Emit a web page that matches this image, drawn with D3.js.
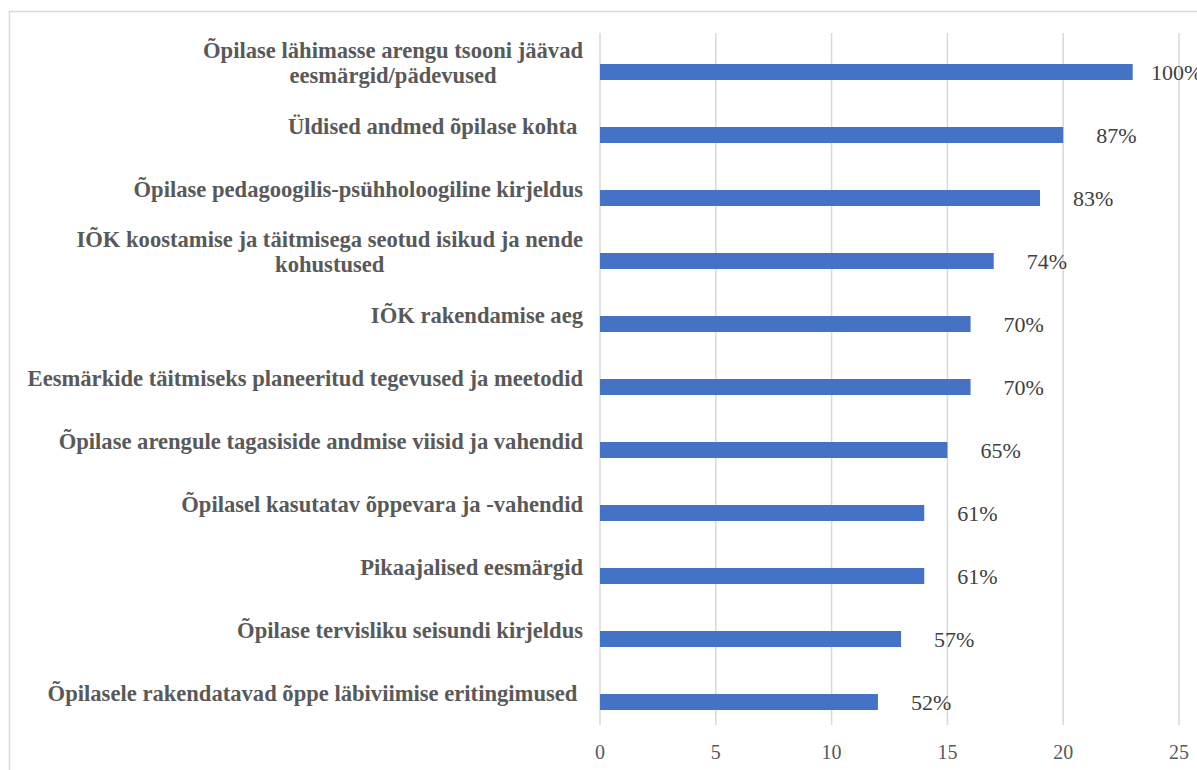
<!DOCTYPE html>
<html>
<head>
<meta charset="utf-8">
<script src="https://cdn.jsdelivr.net/npm/d3@7"></script>
<style>
  body { margin: 0; background: #fff; }
  svg { display: block; }
</style>
</head>
<body>
<script>
// categories top to bottom
const categories = [
  "Õpilase lähimasse arengu tsooni jäävad|eesmärgid/pädevused",
  "Üldised andmed õpilase kohta ",
  "Õpilase pedagoogilis-psühholoogiline kirjeldus",
  "IÕK koostamise ja täitmisega seotud isikud ja nende|kohustused",
  "IÕK rakendamise aeg",
  "Eesmärkide täitmiseks planeeritud tegevused ja meetodid",
  "Õpilase arengule tagasiside andmise viisid ja vahendid",
  "Õpilasel kasutatav õppevara ja -vahendid",
  "Pikaajalised eesmärgid",
  "Õpilase tervisliku seisundi kirjeldus",
  "Õpilasele rakendatavad õppe läbiviimise eritingimused "
];
const values = [23, 20, 19, 17, 16, 16, 15, 14, 14, 13, 12];
const percents = ["100%", "87%", "83%", "74%", "70%", "70%", "65%", "61%", "61%", "57%", "52%"];
const xTicks = [0, 5, 10, 15, 20, 25];

const W = 1197, H = 770;
const plotLeft = 600, plotRight = 1179, plotTop = 40.5, plotBottom = 733.5;

const svg = d3.select("body").append("svg").attr("width", W).attr("height", H);

// outer chart border
svg.append("rect")
  .attr("x", 9.5).attr("y", 11.5)
  .attr("width", W).attr("height", H)
  .attr("fill", "none").attr("stroke", "#d9d9d9").attr("stroke-width", 1.5);

const x = d3.scaleLinear().domain([0, 25]).range([plotLeft, plotRight]);
const y = d3.scaleBand().domain(d3.range(categories.length)).range([plotTop, plotBottom]).paddingInner(0.746).paddingOuter(0.373);

// gridlines
svg.append("g").selectAll("line")
  .data(xTicks)
  .enter().append("line")
  .attr("x1", d => x(d)).attr("x2", d => x(d))
  .attr("y1", 33).attr("y2", 725)
  .attr("stroke", "#d9d9d9").attr("stroke-width", 1.5);

// tick labels
svg.append("g").selectAll("text")
  .data(xTicks)
  .enter().append("text")
  .attr("x", d => x(d)).attr("y", 759)
  .attr("text-anchor", "middle")
  .attr("font-family", "Liberation Serif, Times New Roman, serif")
  .attr("font-size", 20).attr("fill", "#595959")
  .text(d => d);

// bars
svg.append("g").selectAll("rect")
  .data(values)
  .enter().append("rect")
  .attr("x", x(0))
  .attr("y", (d, i) => y(i))
  .attr("width", d => x(d) - x(0))
  .attr("height", y.bandwidth())
  .attr("fill", "#4472c4");

// value labels
svg.append("g").selectAll("text")
  .data(values)
  .enter().append("text")
  .attr("x", d => Math.min(x(d) + 33, 1151))
  .attr("y", (d, i) => y(i) + y.bandwidth() / 2 + 8)
  .attr("font-family", "Liberation Serif, Times New Roman, serif")
  .attr("font-size", 22).attr("fill", "#404040")
  .text((d, i) => percents[i]);

// category labels
const labelRight = 583;
const cat = svg.append("g")
  .attr("font-family", "Liberation Serif, Times New Roman, serif")
  .attr("font-weight", "bold")
  .attr("font-size", 22.6)
  .attr("fill", "#595959");

categories.forEach((c, i) => {
  const lines = c.split("|");
  const cy = y(i) + y.bandwidth() / 2;
  const lh = 25;
  const t = cat.append("text").attr("xml:space", "preserve");
  const spans = lines.map((l, k) => t.append("tspan")
    .attr("y", cy - (lines.length - 1) * lh / 2 + k * lh - 1.5)
    .text(l));
  if (lines.length === 1) {
    t.attr("text-anchor", "end");
    spans[0].attr("x", labelRight);
  } else {
    const wMax = d3.max(spans, s => s.node().getComputedTextLength());
    t.attr("text-anchor", "middle");
    spans.forEach(s => s.attr("x", labelRight - wMax / 2));
  }
});
</script>
</body>
</html>
